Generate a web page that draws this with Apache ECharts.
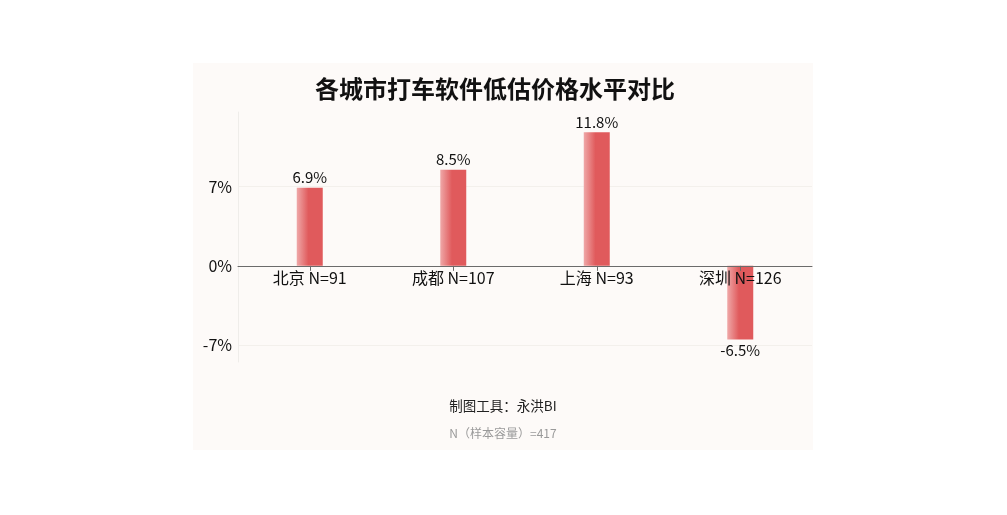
<!DOCTYPE html>
<html>
<head>
<meta charset="utf-8">
<script src="https://cdn.jsdelivr.net/npm/echarts@6/dist/echarts.min.js"></script>
<style>
    html, body { margin: 0; padding: 0; background: #ffffff; }
    #panel { position: absolute; left: 193px; top: 63px; width: 620px; height: 387px; background: #fdfaf8; }
</style>
</head>
<body>
<div id="panel"></div>
<script type="text/javascript">
    // 数据
    var cities = ['北京 N=91', '成都 N=107', '上海 N=93', '深圳 N=126'];
    var values = [6.9, 8.5, 11.8, -6.5];
    var yTicks = [-7, 0, 7];
    var titleText = '各城市打车软件低估价格水平对比';
    var footText = '制图工具：永洪BI';
    var noteText = 'N（样本容量）=417';

    var font = '"Noto Sans CJK SC", "Noto Sans", sans-serif';
    var myChart = echarts.init(document.getElementById('panel'));
    var barColor = new echarts.graphic.LinearGradient(0, 0, 1, 0, [
        { offset: 0, color: '#efa8a8' },
        { offset: 0.45, color: '#e05a5c' },
        { offset: 1, color: '#e05a5c' }
    ]);
    var option = {
        textStyle: { fontFamily: font },
        title: {
            text: titleText,
            left: 117,
            top: 9,
            textStyle: { fontSize: 24, fontWeight: 'bold', color: '#111', fontFamily: font }
        },
        grid: { left: 45, right: 1, top: 49, bottom: 88 },
        xAxis: {
            type: 'category',
            data: cities,
            z: 5,
            axisLine: { onZero: true, lineStyle: { color: '#6b6b6b', width: 1 } },
            axisTick: { show: true, alignWithLabel: true, length: 5, lineStyle: { color: '#6b6b6b' } },
            // 标签贴着0轴
            axisLabel: { color: '#111', fontSize: 16, margin: -92, fontFamily: font }
        },
        yAxis: {
            type: 'value',
            min: -8.5,
            max: 13.6,
            axisLine: { show: true, lineStyle: { color: '#efedea' } },
            axisTick: { show: false, customValues: yTicks },
            axisLabel: {
                customValues: yTicks,
                color: '#111', fontSize: 16, margin: 6, fontFamily: font,
                formatter: function (v) { return v + '%'; }
            },
            splitLine: { show: true, lineStyle: { color: '#f3f0ec' } }
        },
        series: [{
            type: 'bar',
            data: values,
            barWidth: 26,
            itemStyle: { color: barColor },
            label: {
                show: true,
                position: 'outside',
                color: '#111',
                fontSize: 15,
                distance: 3,
                fontFamily: font,
                formatter: function (p) { return p.value + '%'; }
            }
        }],
        graphic: [
            { type: 'text', left: 'center', top: 336, style: { text: footText, fill: '#222', fontSize: 13.5, fontFamily: font } },
            { type: 'text', left: 'center', top: 364, style: { text: noteText, fill: '#9a9a9a', fontSize: 12, fontFamily: font } }
        ]
    };
    myChart.setOption(option);
</script>
</body>
</html>
